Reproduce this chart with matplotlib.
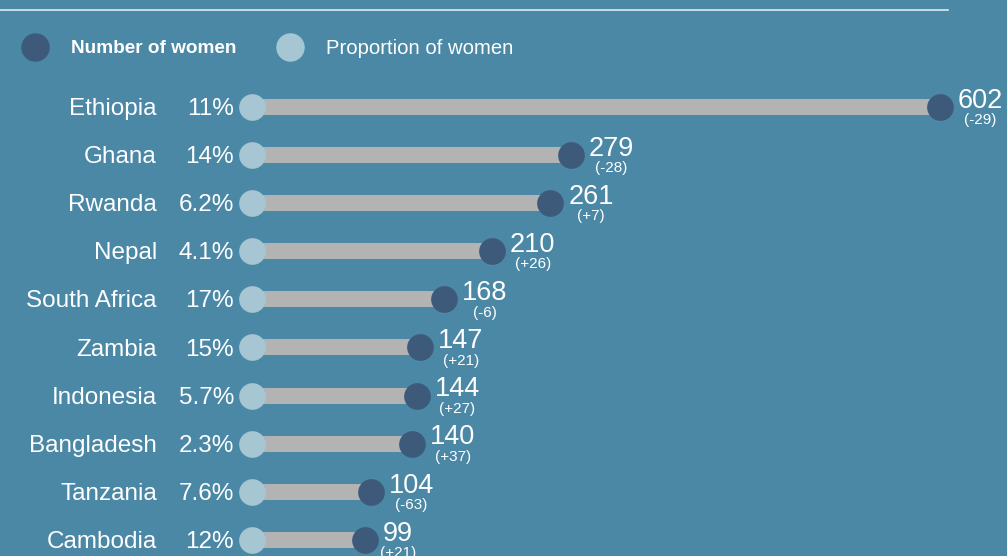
import matplotlib
matplotlib.use("Agg")
import matplotlib.pyplot as plt

countries = ["Ethiopia", "Ghana", "Rwanda", "Nepal", "South Africa", "Zambia",
             "Indonesia", "Bangladesh", "Tanzania", "Cambodia"]
proportions = ["11%", "14%", "6.2%", "4.1%", "17%", "15%", "5.7%", "2.3%", "7.6%", "12%"]
numbers = [602, 279, 261, 210, 168, 147, 144, 140, 104, 99]
changes = ["(-29)", "(-28)", "(+7)", "(+26)", "(-6)", "(+21)", "(+27)", "(+37)", "(-63)", "(+21)"]

BG = "#4a88a6"
DARK = "#3d5a7b"
LIGHT = "#a7c6d3"
BAR = "#b3b3b3"
FONT = "Liberation Sans"

W, H, DPI = 1007, 556, 100
fig = plt.figure(figsize=(W / DPI, H / DPI), dpi=DPI, facecolor=BG)
ax = fig.add_axes([0, 0, 1, 1], facecolor=BG)

px_per_unit = (940 - 252) / 602
ax.set_xlim(-252 / px_per_unit, (W - 252) / px_per_unit)
row_px = 48.1
ax.set_ylim((H - 107) / row_px, -107 / row_px)
ax.axis("off")

ys = list(range(len(countries)))
ax.barh(ys, numbers, height=16 / row_px, color=BAR, zorder=1)
ax.scatter([0] * len(ys), ys, s=370, color=LIGHT, zorder=3, linewidths=0)
ax.scatter(numbers, ys, s=370, color=DARK, zorder=3, linewidths=0)

renderer = fig.canvas.get_renderer()
for y, c, p, n, ch in zip(ys, countries, proportions, numbers, changes):
    ax.annotate(c, (0, y), xytext=(-68.5, -1.5), textcoords="offset points",
                ha="right", va="center", color="white", fontsize=17.5, family=FONT)
    ax.annotate(p, (0, y), xytext=(-13, -1.5), textcoords="offset points",
                ha="right", va="center", color="white", fontsize=17.5, family=FONT)
    t = ax.annotate(str(n), (n, y), xytext=(13, 4.5), textcoords="offset points",
                    ha="left", va="center", color="white", fontsize=19.5, family=FONT)
    bb = t.get_window_extent(renderer)
    cx_pt = (bb.x0 + bb.x1) / 2
    base_x = ax.transData.transform((n, y))[0]
    off = (cx_pt - base_x) * 72 / DPI
    ax.annotate(ch, (n, y), xytext=(off, -9.5), textcoords="offset points",
                ha="center", va="center", color="white", fontsize=11, family=FONT)

# top rule
fig.add_artist(plt.Line2D([0, 948 / W], [1 - 10 / H, 1 - 10 / H], color="#dfeaf0", lw=1.2))

# legend
ly = 1 - 47 / H
ty = 1 - 48.5 / H
fig.add_artist(plt.Line2D([35 / W], [ly], marker="o", markersize=19.5, color=DARK, lw=0))
fig.text(71 / W, ty, "Number of women", color="white", fontsize=13.7, fontweight="bold",
         va="center", ha="left", family=FONT)
fig.add_artist(plt.Line2D([290 / W], [ly], marker="o", markersize=19.5, color=LIGHT, lw=0))
fig.text(326 / W, ty, "Proportion of women", color="white", fontsize=14.6,
         va="center", ha="left", family=FONT)

fig.savefig("out.png", dpi=DPI, facecolor=BG)
